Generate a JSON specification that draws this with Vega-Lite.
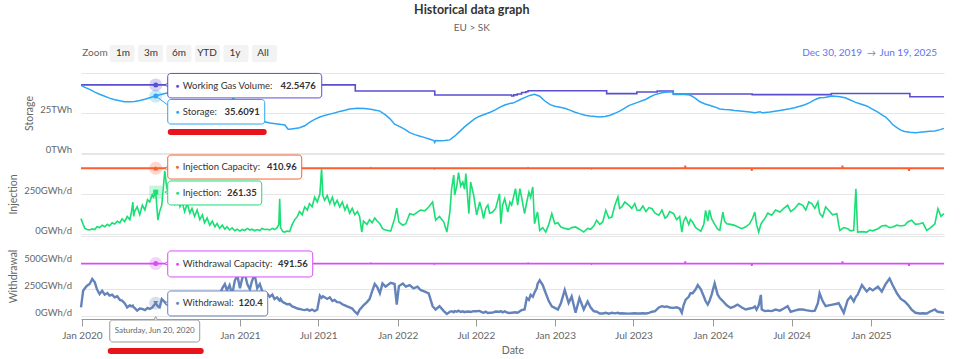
{
"$schema": "https://vega.github.io/schema/vega-lite/v6.json",
"background": "white",
"padding": {"left": 8, "top": 3, "right": 0, "bottom": 0},
"config": {"font": "Lato", "view": {"stroke": null},
  "axis": {"labelColor": "#666666", "titleColor": "#666666", "labelFontSize": 9.5, "titleFontSize": 10.5, "titleFontWeight": "normal", "gridColor": "#e6e6e6", "domain": false, "ticks": false, "tickSize": 0}},
"title": {"text": "Historical data graph", "subtitle": "EU > SK", "fontSize": 12.5, "fontWeight": "bold", "color": "#333333", "subtitleFontSize": 10, "subtitleColor": "#666666", "subtitlePadding": 7, "offset": 12, "anchor": "middle", "dx": -7},
"spacing": 0,
"resolve": {"scale": {"x": "independent", "y": "independent"}, "axis": {"x": "independent", "y": "independent"}},
"datasets": {
"btns": [{"t":"Zoom","r":"r"},{"t":"1m","r":"r"},{"t":"3m","r":"r"},{"t":"6m","r":"r"},{"t":"YTD","r":"r"},{"t":"1y","r":"r"},{"t":"All","r":"r"}],
"wgv": [{"d":"2019-12-30","v":42.5476},{"d":"2021-09-25","v":38.75},{"d":"2022-03-28","v":36.25},{"d":"2022-09-22","v":35.6},{"d":"2022-09-27","v":36.3},{"d":"2022-10-05","v":36.9},{"d":"2022-10-15","v":37.8},{"d":"2022-10-25","v":38.3},{"d":"2022-10-30","v":38.9},{"d":"2023-04-30","v":37.1},{"d":"2023-07-09","v":38.1},{"d":"2023-08-25","v":38.75},{"d":"2023-10-01","v":36.9},{"d":"2024-04-01","v":36.5},{"d":"2024-10-01","v":37.2},{"d":"2025-04-01","v":35.2},{"d":"2025-06-19","v":35.2}],
"sto": [{"d":"2019-12-30","v":42.3},{"d":"2020-01-08","v":41},{"d":"2020-01-19","v":39.8},{"d":"2020-01-31","v":38},{"d":"2020-02-11","v":36.7},{"d":"2020-02-23","v":35.5},{"d":"2020-03-05","v":34.3},{"d":"2020-03-17","v":33.3},{"d":"2020-03-29","v":32.6},{"d":"2020-04-09","v":32.1},{"d":"2020-04-21","v":32},{"d":"2020-05-02","v":32.2},{"d":"2020-05-14","v":32.8},{"d":"2020-05-26","v":33.6},{"d":"2020-06-06","v":34.5},{"d":"2020-06-20","v":35.6091},{"d":"2020-06-29","v":36.4},{"d":"2020-07-22","v":37.8},{"d":"2020-08-15","v":38.9},{"d":"2020-09-07","v":39.6},{"d":"2020-09-30","v":40},{"d":"2020-10-23","v":39.8},{"d":"2020-11-15","v":38.5},{"d":"2020-12-08","v":35.5},{"d":"2021-01-01","v":31.5},{"d":"2021-01-24","v":26.5},{"d":"2021-02-16","v":22},{"d":"2021-02-27","v":19.5},{"d":"2021-03-11","v":18.8},{"d":"2021-04-03","v":18},{"d":"2021-04-15","v":17.5},{"d":"2021-04-22","v":15},{"d":"2021-04-26","v":14.8},{"d":"2021-05-08","v":15.3},{"d":"2021-05-19","v":15.8},{"d":"2021-05-31","v":17},{"d":"2021-06-11","v":19.2},{"d":"2021-06-23","v":21},{"d":"2021-07-05","v":22.5},{"d":"2021-07-16","v":23.5},{"d":"2021-07-28","v":24.3},{"d":"2021-08-08","v":25},{"d":"2021-08-20","v":26},{"d":"2021-09-01","v":26.7},{"d":"2021-09-12","v":27.5},{"d":"2021-09-30","v":28},{"d":"2021-10-17","v":27.8},{"d":"2021-11-03","v":27.2},{"d":"2021-11-21","v":26.2},{"d":"2021-12-03","v":24},{"d":"2021-12-14","v":21.5},{"d":"2021-12-25","v":18},{"d":"2022-01-06","v":16.5},{"d":"2022-01-18","v":14.8},{"d":"2022-01-29","v":12.7},{"d":"2022-02-10","v":11.5},{"d":"2022-02-22","v":10.5},{"d":"2022-03-05","v":9.6},{"d":"2022-03-17","v":8.6},{"d":"2022-03-26","v":7.8},{"d":"2022-03-28","v":6.5},{"d":"2022-03-30","v":7.8},{"d":"2022-04-09","v":7.6},{"d":"2022-04-20","v":7.8},{"d":"2022-05-02","v":8.2},{"d":"2022-05-13","v":10.5},{"d":"2022-05-25","v":13.5},{"d":"2022-06-05","v":16.3},{"d":"2022-06-17","v":19},{"d":"2022-06-29","v":21.5},{"d":"2022-07-10","v":23},{"d":"2022-07-22","v":24.2},{"d":"2022-08-02","v":25.3},{"d":"2022-08-14","v":26.8},{"d":"2022-08-25","v":28.5},{"d":"2022-09-06","v":30},{"d":"2022-09-18","v":31},{"d":"2022-09-25","v":31.2},{"d":"2022-10-01","v":32},{"d":"2022-10-11","v":33.3},{"d":"2022-10-22","v":34.6},{"d":"2022-11-03","v":36},{"d":"2022-11-14","v":36.7},{"d":"2022-11-26","v":35.5},{"d":"2022-12-08","v":32.5},{"d":"2022-12-20","v":30.2},{"d":"2022-12-31","v":29.2},{"d":"2023-01-12","v":28.6},{"d":"2023-01-23","v":28},{"d":"2023-02-04","v":26.8},{"d":"2023-02-16","v":25.5},{"d":"2023-02-26","v":24.6},{"d":"2023-03-11","v":23.6},{"d":"2023-03-22","v":23.1},{"d":"2023-04-03","v":22.8},{"d":"2023-04-14","v":22.5},{"d":"2023-04-26","v":22.8},{"d":"2023-05-08","v":23.6},{"d":"2023-05-19","v":24.8},{"d":"2023-05-30","v":26.2},{"d":"2023-06-11","v":28},{"d":"2023-06-20","v":29.6},{"d":"2023-07-09","v":31.5},{"d":"2023-07-30","v":33.6},{"d":"2023-08-08","v":35},{"d":"2023-08-20","v":36.5},{"d":"2023-08-31","v":37.4},{"d":"2023-09-12","v":38},{"d":"2023-09-23","v":38.1},{"d":"2023-09-30","v":38.2},{"d":"2023-10-02","v":36.6},{"d":"2023-10-16","v":36.7},{"d":"2023-10-28","v":36.6},{"d":"2023-11-09","v":36.2},{"d":"2023-11-20","v":34.5},{"d":"2023-12-02","v":32},{"d":"2023-12-14","v":30.6},{"d":"2023-12-24","v":29.8},{"d":"2024-01-05","v":28.8},{"d":"2024-01-17","v":27.5},{"d":"2024-01-28","v":27.2},{"d":"2024-02-09","v":27},{"d":"2024-02-20","v":26.6},{"d":"2024-03-04","v":26.3},{"d":"2024-03-15","v":26},{"d":"2024-03-26","v":25.6},{"d":"2024-04-07","v":25.2},{"d":"2024-04-19","v":25.8},{"d":"2024-04-25","v":25.1},{"d":"2024-05-12","v":25.6},{"d":"2024-06-04","v":26.6},{"d":"2024-06-27","v":27.6},{"d":"2024-07-08","v":28.3},{"d":"2024-07-20","v":29.2},{"d":"2024-08-01","v":30.2},{"d":"2024-08-13","v":31.6},{"d":"2024-08-24","v":33.3},{"d":"2024-09-04","v":34.5},{"d":"2024-09-16","v":34.7},{"d":"2024-10-04","v":35.6},{"d":"2024-10-21","v":35.2},{"d":"2024-11-02","v":34.5},{"d":"2024-11-13","v":33.3},{"d":"2024-11-25","v":31.8},{"d":"2024-12-06","v":30.8},{"d":"2024-12-22","v":29.4},{"d":"2025-01-02","v":27.7},{"d":"2025-01-17","v":25.5},{"d":"2025-01-28","v":23.5},{"d":"2025-02-04","v":22.5},{"d":"2025-02-13","v":20},{"d":"2025-02-20","v":17.8},{"d":"2025-03-02","v":15.8},{"d":"2025-03-11","v":14.3},{"d":"2025-03-20","v":13.4},{"d":"2025-04-01","v":13},{"d":"2025-04-14","v":12.7},{"d":"2025-04-24","v":12.9},{"d":"2025-05-06","v":13.3},{"d":"2025-05-17","v":13.6},{"d":"2025-05-29","v":13.8},{"d":"2025-06-10","v":14.6},{"d":"2025-06-19","v":15.4}],
"icap": [{"d":"2019-12-30","v":410.96},{"d":"2021-10-30","v":410.96},{"d":"2021-10-31","v":414},{"d":"2021-11-01","v":410.96},{"d":"2022-03-26","v":410.96},{"d":"2022-03-27","v":408},{"d":"2022-03-28","v":410.96},{"d":"2022-10-29","v":410.96},{"d":"2022-10-30","v":414},{"d":"2022-10-31","v":410.96},{"d":"2023-03-25","v":410.96},{"d":"2023-03-26","v":408},{"d":"2023-03-27","v":410.96},{"d":"2023-10-28","v":410.96},{"d":"2023-10-29","v":428},{"d":"2023-10-30","v":410.96},{"d":"2024-03-30","v":410.96},{"d":"2024-03-31","v":394},{"d":"2024-04-01","v":410.96},{"d":"2024-10-26","v":410.96},{"d":"2024-10-27","v":428},{"d":"2024-10-28","v":410.96},{"d":"2025-03-29","v":410.96},{"d":"2025-03-30","v":394},{"d":"2025-03-31","v":410.96},{"d":"2025-06-19","v":410.96}],
"wcap": [{"d":"2019-12-30","v":491.56},{"d":"2021-10-30","v":491.56},{"d":"2021-10-31","v":495},{"d":"2021-11-01","v":491.56},{"d":"2022-03-26","v":491.56},{"d":"2022-03-27","v":488},{"d":"2022-03-28","v":491.56},{"d":"2022-10-29","v":491.56},{"d":"2022-10-30","v":495},{"d":"2022-10-31","v":491.56},{"d":"2023-03-25","v":491.56},{"d":"2023-03-26","v":488},{"d":"2023-03-27","v":491.56},{"d":"2023-10-28","v":491.56},{"d":"2023-10-29","v":512},{"d":"2023-10-30","v":491.56},{"d":"2024-03-30","v":491.56},{"d":"2024-03-31","v":471},{"d":"2024-04-01","v":491.56},{"d":"2024-10-26","v":491.56},{"d":"2024-10-27","v":512},{"d":"2024-10-28","v":491.56},{"d":"2025-03-29","v":491.56},{"d":"2025-03-30","v":471},{"d":"2025-03-31","v":491.56},{"d":"2025-06-19","v":491.56}],
"flow": [
{"d":"2019-12-30","i":96,"w":81},{"d":"2020-01-04","i":60,"w":237},{"d":"2020-01-08","i":35,"w":260},{"d":"2020-01-13","i":28,"w":284},{"d":"2020-01-19","i":25,"w":300},{"d":"2020-01-25","i":32,"w":347},{"d":"2020-01-31","i":28,"w":316},{"d":"2020-02-05","i":45,"w":250},{"d":"2020-02-11","i":40,"w":206},{"d":"2020-02-17","i":55,"w":237},{"d":"2020-02-23","i":45,"w":200},{"d":"2020-02-29","i":60,"w":215},{"d":"2020-03-05","i":50,"w":191},{"d":"2020-03-11","i":70,"w":200},{"d":"2020-03-17","i":62,"w":175},{"d":"2020-03-23","i":80,"w":185},{"d":"2020-03-29","i":70,"w":150},{"d":"2020-04-03","i":95,"w":144},{"d":"2020-04-09","i":78,"w":120},{"d":"2020-04-15","i":110,"w":81},{"d":"2020-04-21","i":90,"w":100},{"d":"2020-04-24","i":125,"w":90},{"d":"2020-04-28","i":200,"w":97},{"d":"2020-04-30","i":110,"w":80},{"d":"2020-05-02","i":140,"w":75},{"d":"2020-05-08","i":170,"w":50},{"d":"2020-05-14","i":120,"w":70},{"d":"2020-05-20","i":180,"w":66},{"d":"2020-05-26","i":150,"w":55},{"d":"2020-06-01","i":215,"w":75},{"d":"2020-06-06","i":200,"w":66},{"d":"2020-06-12","i":245,"w":80},{"d":"2020-06-15","i":230,"w":95},{"d":"2020-06-20","i":261.35,"w":120.4},{"d":"2020-06-25","i":87,"w":90},{"d":"2020-06-29","i":140,"w":81},{"d":"2020-07-04","i":180,"w":159},{"d":"2020-07-11","i":395,"w":130},{"d":"2020-07-15","i":300,"w":110},{"d":"2020-07-22","i":220,"w":100},{"d":"2020-07-28","i":260,"w":120},{"d":"2020-08-03","i":190,"w":90},{"d":"2020-08-09","i":240,"w":110},{"d":"2020-08-15","i":170,"w":80},{"d":"2020-08-20","i":200,"w":100},{"d":"2020-08-26","i":140,"w":90},{"d":"2020-09-01","i":190,"w":120},{"d":"2020-09-07","i":130,"w":95},{"d":"2020-09-12","i":160,"w":130},{"d":"2020-09-18","i":110,"w":100},{"d":"2020-09-24","i":150,"w":120},{"d":"2020-09-30","i":90,"w":150},{"d":"2020-10-06","i":120,"w":130},{"d":"2020-10-11","i":70,"w":160},{"d":"2020-10-17","i":100,"w":140},{"d":"2020-10-23","i":55,"w":170},{"d":"2020-10-29","i":80,"w":150},{"d":"2020-11-04","i":45,"w":180},{"d":"2020-11-09","i":65,"w":160},{"d":"2020-11-15","i":35,"w":200},{"d":"2020-11-21","i":55,"w":260},{"d":"2020-11-27","i":30,"w":300},{"d":"2020-12-02","i":45,"w":240},{"d":"2020-12-08","i":25,"w":290},{"d":"2020-12-14","i":38,"w":200},{"d":"2020-12-20","i":20,"w":330},{"d":"2020-12-26","i":30,"w":380},{"d":"2021-01-01","i":18,"w":260},{"d":"2021-01-06","i":28,"w":350},{"d":"2021-01-12","i":22,"w":400},{"d":"2021-01-18","i":35,"w":300},{"d":"2021-01-24","i":25,"w":250},{"d":"2021-01-29","i":30,"w":330},{"d":"2021-02-04","i":20,"w":390},{"d":"2021-02-10","i":28,"w":260},{"d":"2021-02-16","i":22,"w":300},{"d":"2021-02-21","i":35,"w":240},{"d":"2021-02-27","i":28,"w":190},{"d":"2021-03-05","i":30,"w":210},{"d":"2021-03-11","i":25,"w":180},{"d":"2021-03-17","i":35,"w":200},{"d":"2021-03-22","i":28,"w":160},{"d":"2021-03-28","i":40,"w":175},{"d":"2021-04-01","i":60,"w":150},{"d":"2021-04-03","i":220,"w":144},{"d":"2021-04-05","i":40,"w":160},{"d":"2021-04-10","i":15,"w":130},{"d":"2021-04-15","i":12,"w":120},{"d":"2021-04-20","i":18,"w":110},{"d":"2021-04-26","i":15,"w":112},{"d":"2021-05-02","i":60,"w":90},{"d":"2021-05-08","i":90,"w":80},{"d":"2021-05-14","i":110,"w":70},{"d":"2021-05-19","i":140,"w":66},{"d":"2021-05-25","i":120,"w":60},{"d":"2021-05-31","i":170,"w":55},{"d":"2021-06-06","i":150,"w":62},{"d":"2021-06-11","i":190,"w":50},{"d":"2021-06-17","i":170,"w":60},{"d":"2021-06-23","i":230,"w":45},{"d":"2021-06-29","i":200,"w":60},{"d":"2021-07-05","i":250,"w":191},{"d":"2021-07-09","i":408,"w":170},{"d":"2021-07-12","i":240,"w":185},{"d":"2021-07-16","i":210,"w":175},{"d":"2021-07-22","i":240,"w":160},{"d":"2021-07-28","i":190,"w":175},{"d":"2021-08-03","i":230,"w":140},{"d":"2021-08-08","i":180,"w":150},{"d":"2021-08-14","i":210,"w":130},{"d":"2021-08-20","i":170,"w":128},{"d":"2021-08-26","i":200,"w":110},{"d":"2021-09-01","i":150,"w":100},{"d":"2021-09-06","i":180,"w":90},{"d":"2021-09-12","i":130,"w":81},{"d":"2021-09-18","i":160,"w":70},{"d":"2021-09-24","i":120,"w":40},{"d":"2021-09-30","i":140,"w":19},{"d":"2021-10-05","i":110,"w":60},{"d":"2021-10-10","i":12,"w":81},{"d":"2021-10-14","i":80,"w":100},{"d":"2021-10-22","i":60,"w":130},{"d":"2021-10-28","i":90,"w":159},{"d":"2021-11-03","i":70,"w":230},{"d":"2021-11-09","i":100,"w":300},{"d":"2021-11-15","i":80,"w":270},{"d":"2021-11-21","i":64,"w":213},{"d":"2021-11-27","i":33,"w":305},{"d":"2021-12-04","i":25,"w":275},{"d":"2021-12-16","i":18,"w":311},{"d":"2021-12-25","i":96,"w":300},{"d":"2021-12-30","i":162,"w":107},{"d":"2022-01-04","i":75,"w":280},{"d":"2022-01-13","i":55,"w":305},{"d":"2022-01-20","i":64,"w":275},{"d":"2022-01-29","i":127,"w":290},{"d":"2022-02-07","i":120,"w":259},{"d":"2022-02-16","i":137,"w":275},{"d":"2022-02-23","i":150,"w":244},{"d":"2022-03-05","i":145,"w":229},{"d":"2022-03-14","i":169,"w":213},{"d":"2022-03-23","i":200,"w":92},{"d":"2022-03-30","i":87,"w":61},{"d":"2022-04-08","i":110,"w":92},{"d":"2022-04-18","i":75,"w":46},{"d":"2022-04-25","i":12,"w":20},{"d":"2022-05-02","i":137,"w":40},{"d":"2022-05-06","i":283,"w":45},{"d":"2022-05-11","i":368,"w":35},{"d":"2022-05-13","i":244,"w":46},{"d":"2022-05-18","i":300,"w":40},{"d":"2022-05-22","i":383,"w":50},{"d":"2022-05-27","i":300,"w":38},{"d":"2022-06-01","i":325,"w":44},{"d":"2022-06-05","i":280,"w":36},{"d":"2022-06-08","i":377,"w":40},{"d":"2022-06-15","i":127,"w":42},{"d":"2022-06-19","i":325,"w":38},{"d":"2022-06-26","i":244,"w":46},{"d":"2022-07-03","i":119,"w":44},{"d":"2022-07-10","i":200,"w":48},{"d":"2022-07-15","i":150,"w":35},{"d":"2022-07-19","i":96,"w":30},{"d":"2022-07-24","i":160,"w":40},{"d":"2022-07-29","i":181,"w":28},{"d":"2022-08-02","i":130,"w":30},{"d":"2022-08-09","i":137,"w":32},{"d":"2022-08-16","i":160,"w":42},{"d":"2022-08-25","i":252,"w":40},{"d":"2022-08-28","i":64,"w":46},{"d":"2022-09-01","i":180,"w":35},{"d":"2022-09-06","i":221,"w":44},{"d":"2022-09-13","i":137,"w":30},{"d":"2022-09-18","i":200,"w":28},{"d":"2022-09-22","i":181,"w":30},{"d":"2022-10-01","i":283,"w":35},{"d":"2022-10-06","i":181,"w":30},{"d":"2022-10-11","i":283,"w":45},{"d":"2022-10-15","i":230,"w":55},{"d":"2022-10-22","i":127,"w":61},{"d":"2022-10-27","i":200,"w":168},{"d":"2022-11-01","i":262,"w":150},{"d":"2022-11-05","i":230,"w":198},{"d":"2022-11-10","i":294,"w":180},{"d":"2022-11-14","i":64,"w":220},{"d":"2022-11-19","i":120,"w":260},{"d":"2022-11-21","i":137,"w":300},{"d":"2022-11-26","i":23,"w":335},{"d":"2022-12-03","i":40,"w":290},{"d":"2022-12-10","i":12,"w":213},{"d":"2022-12-17","i":60,"w":140},{"d":"2022-12-24","i":127,"w":90},{"d":"2022-12-31","i":64,"w":76},{"d":"2023-01-07","i":70,"w":61},{"d":"2023-01-14","i":44,"w":120},{"d":"2023-01-23","i":35,"w":244},{"d":"2023-02-01","i":29,"w":122},{"d":"2023-02-08","i":40,"w":183},{"d":"2023-02-17","i":44,"w":30},{"d":"2023-02-26","i":30,"w":168},{"d":"2023-03-08","i":12,"w":61},{"d":"2023-03-17","i":35,"w":137},{"d":"2023-03-24","i":29,"w":80},{"d":"2023-03-31","i":50,"w":46},{"d":"2023-04-07","i":86,"w":40},{"d":"2023-04-14","i":60,"w":24},{"d":"2023-04-21","i":75,"w":24},{"d":"2023-04-28","i":148,"w":30},{"d":"2023-05-05","i":100,"w":22},{"d":"2023-05-12","i":106,"w":30},{"d":"2023-05-19","i":180,"w":25},{"d":"2023-05-26","i":231,"w":30},{"d":"2023-05-30","i":160,"w":24},{"d":"2023-06-04","i":169,"w":26},{"d":"2023-06-11","i":200,"w":24},{"d":"2023-06-20","i":181,"w":22},{"d":"2023-06-27","i":160,"w":24},{"d":"2023-07-04","i":190,"w":26},{"d":"2023-07-09","i":150,"w":24},{"d":"2023-07-16","i":148,"w":24},{"d":"2023-07-23","i":175,"w":26},{"d":"2023-07-30","i":140,"w":24},{"d":"2023-08-06","i":165,"w":30},{"d":"2023-08-13","i":158,"w":40},{"d":"2023-08-20","i":130,"w":46},{"d":"2023-08-29","i":117,"w":80},{"d":"2023-09-05","i":150,"w":92},{"d":"2023-09-12","i":100,"w":85},{"d":"2023-09-16","i":106,"w":90},{"d":"2023-09-23","i":140,"w":80},{"d":"2023-10-02","i":127,"w":76},{"d":"2023-10-09","i":90,"w":82},{"d":"2023-10-16","i":110,"w":70},{"d":"2023-10-21","i":12,"w":30},{"d":"2023-10-25","i":80,"w":100},{"d":"2023-10-30","i":106,"w":153},{"d":"2023-11-06","i":60,"w":180},{"d":"2023-11-10","i":90,"w":213},{"d":"2023-11-15","i":75,"w":213},{"d":"2023-11-22","i":40,"w":250},{"d":"2023-11-27","i":30,"w":290},{"d":"2023-12-04","i":17,"w":250},{"d":"2023-12-11","i":60,"w":183},{"d":"2023-12-15","i":148,"w":140},{"d":"2023-12-20","i":80,"w":107},{"d":"2023-12-24","i":150,"w":140},{"d":"2023-12-29","i":96,"w":200},{"d":"2024-01-05","i":60,"w":305},{"d":"2024-01-12","i":30,"w":200},{"d":"2024-01-17","i":23,"w":168},{"d":"2024-01-24","i":137,"w":140},{"d":"2024-01-28","i":80,"w":122},{"d":"2024-02-02","i":64,"w":100},{"d":"2024-02-11","i":60,"w":76},{"d":"2024-02-20","i":54,"w":90},{"d":"2024-02-27","i":45,"w":107},{"d":"2024-03-08","i":33,"w":80},{"d":"2024-03-17","i":45,"w":61},{"d":"2024-03-26","i":64,"w":70},{"d":"2024-04-02","i":100,"w":76},{"d":"2024-04-07","i":137,"w":90},{"d":"2024-04-11","i":60,"w":60},{"d":"2024-04-16","i":12,"w":100},{"d":"2024-04-21","i":60,"w":198},{"d":"2024-04-23","i":70,"w":60},{"d":"2024-04-30","i":96,"w":46},{"d":"2024-05-07","i":130,"w":50},{"d":"2024-05-16","i":117,"w":46},{"d":"2024-05-25","i":150,"w":60},{"d":"2024-06-04","i":137,"w":50},{"d":"2024-06-13","i":160,"w":70},{"d":"2024-06-22","i":179,"w":92},{"d":"2024-06-29","i":140,"w":40},{"d":"2024-07-08","i":158,"w":50},{"d":"2024-07-18","i":190,"w":61},{"d":"2024-07-27","i":179,"w":61},{"d":"2024-08-03","i":150,"w":55},{"d":"2024-08-10","i":200,"w":50},{"d":"2024-08-17","i":190,"w":46},{"d":"2024-08-24","i":160,"w":50},{"d":"2024-08-31","i":200,"w":120},{"d":"2024-09-04","i":130,"w":213},{"d":"2024-09-11","i":106,"w":140},{"d":"2024-09-18","i":170,"w":92},{"d":"2024-09-25","i":148,"w":100},{"d":"2024-10-04","i":120,"w":107},{"d":"2024-10-14","i":127,"w":115},{"d":"2024-10-18","i":60,"w":122},{"d":"2024-10-21","i":23,"w":100},{"d":"2024-10-30","i":40,"w":30},{"d":"2024-11-08","i":33,"w":150},{"d":"2024-11-15","i":20,"w":183},{"d":"2024-11-22","i":23,"w":137},{"d":"2024-11-27","i":283,"w":180},{"d":"2024-12-01","i":12,"w":200},{"d":"2024-12-11","i":15,"w":290},{"d":"2024-12-22","i":12,"w":230},{"d":"2024-12-29","i":25,"w":259},{"d":"2025-01-05","i":20,"w":240},{"d":"2025-01-17","i":33,"w":275},{"d":"2025-01-26","i":50,"w":229},{"d":"2025-02-04","i":54,"w":300},{"d":"2025-02-13","i":40,"w":351},{"d":"2025-02-20","i":44,"w":290},{"d":"2025-03-02","i":55,"w":213},{"d":"2025-03-11","i":50,"w":160},{"d":"2025-03-20","i":54,"w":137},{"d":"2025-03-27","i":75,"w":107},{"d":"2025-04-05","i":86,"w":60},{"d":"2025-04-14","i":60,"w":30},{"d":"2025-04-24","i":64,"w":24},{"d":"2025-05-01","i":70,"w":26},{"d":"2025-05-10","i":23,"w":24},{"d":"2025-05-17","i":35,"w":40},{"d":"2025-05-29","i":64,"w":61},{"d":"2025-06-02","i":120,"w":45},{"d":"2025-06-05","i":158,"w":40},{"d":"2025-06-12","i":110,"w":35},{"d":"2025-06-19","i":127,"w":30}]
},
"vconcat": [
{
 "width": 863, "height": 27,
 "resolve": {"scale": {"x": "independent"}},
 "layer": [
  {"data": {"name": "btns"}, "transform": [{"filter": "datum.t !== 'Zoom'"}],
   "mark": {"type": "rect", "fill": "#f3f3f3", "cornerRadius": 2},
   "encoding": {
     "x": {"field": "t", "type": "nominal", "scale": {"domain": ["Zoom","1m","3m","6m","YTD","1y","All"], "range": [0, 196], "paddingInner": 0.12, "paddingOuter": 0}, "axis": null},
     "y": {"field": "r", "type": "nominal", "scale": {"domain": ["r"], "paddingInner": 0, "paddingOuter": 0.3, "align": 0}, "axis": null}}},
  {"data": {"name": "btns"},
   "mark": {"type": "text", "fontSize": 10},
   "encoding": {
     "x": {"field": "t", "type": "nominal", "scale": {"domain": ["Zoom","1m","3m","6m","YTD","1y","All"], "range": [0, 196], "paddingInner": 0.12, "paddingOuter": 0}, "axis": null},
     "y": {"field": "r", "type": "nominal", "scale": {"domain": ["r"], "paddingInner": 0, "paddingOuter": 0.3, "align": 0}, "axis": null},
     "text": {"field": "t"},
     "color": {"condition": {"test": "datum.t === 'Zoom'", "value": "#666666"}, "value": "#333333"}}},
  {"data": {"values": [{"d": "2025-06-19", "r": "r", "label": "Jun 19, 2025"}]},
   "mark": {"type": "text", "align": "right", "dx": -7, "fontSize": 10, "color": "#5f73f0"},
   "encoding": {
     "x": {"field": "d", "type": "temporal", "scale": {"type": "utc", "domain": [{"year": 2019, "month": 12, "date": 30, "utc": true}, {"year": 2025, "month": 6, "date": 19, "utc": true}]}, "axis": null},
     "y": {"field": "r", "type": "nominal", "scale": {"domain": ["r"], "paddingInner": 0, "paddingOuter": 0.3, "align": 0}, "axis": null},
     "text": {"field": "label"}}},
  {"data": {"values": [{"d": "2025-06-19", "r": "r", "label": "→"}]},
   "mark": {"type": "text", "align": "right", "dx": -68, "fontSize": 9, "color": "#888888"},
   "encoding": {
     "x": {"field": "d", "type": "temporal", "scale": {"type": "utc", "domain": [{"year": 2019, "month": 12, "date": 30, "utc": true}, {"year": 2025, "month": 6, "date": 19, "utc": true}]}, "axis": null},
     "y": {"field": "r", "type": "nominal", "scale": {"domain": ["r"], "paddingInner": 0, "paddingOuter": 0.3, "align": 0}, "axis": null},
     "text": {"field": "label"}}},
  {"data": {"values": [{"d": "2025-06-19", "r": "r", "label": "Dec 30, 2019"}]},
   "mark": {"type": "text", "align": "right", "dx": -82, "fontSize": 10, "color": "#5f73f0"},
   "encoding": {
     "x": {"field": "d", "type": "temporal", "scale": {"type": "utc", "domain": [{"year": 2019, "month": 12, "date": 30, "utc": true}, {"year": 2025, "month": 6, "date": 19, "utc": true}]}, "axis": null},
     "y": {"field": "r", "type": "nominal", "scale": {"domain": ["r"], "paddingInner": 0, "paddingOuter": 0.3, "align": 0}, "axis": null},
     "text": {"field": "label"}}}
 ]
},
{
 "width": 863, "height": 80,
 "encoding": {
   "x": {"field": "d", "type": "temporal", "scale": {"type": "utc", "domain": [{"year": 2019, "month": 12, "date": 30, "utc": true}, {"year": 2025, "month": 6, "date": 19, "utc": true}]}, "axis": null},
   "y": {"field": "v", "type": "quantitative", "scale": {"domain": [0, 50], "nice": false}, "axis": {"values": [0, 25, 50], "labelExpr": "datum.value == 50 ? '' : datum.value + 'TWh'", "title": "Storage", "grid": true, "labelPadding": 9.5, "labelOffset": -4, "titlePadding": 5}}},
 "layer": [
  {"data": {"name": "wgv"}, "mark": {"type": "line", "interpolate": "step-after", "color": "#5a4fd0", "strokeWidth": 1.6}},
  {"data": {"name": "sto"}, "mark": {"type": "line", "color": "#2ba6f5", "strokeWidth": 1.5}},
  {"data": {"values": [{"d": "2020-06-20"}]}, "mark": {"type": "rule", "color": "#cccccc", "strokeWidth": 1}, "encoding": {"y": {"datum": 0}, "y2": {"datum": 50}}},
  {"data": {"values": [{"d": "2020-06-20", "v": 35.6091, "s": "Storage:"}]},
   "layer": [
    {"mark": {"type": "rule", "color": "#2ba6f5", "strokeWidth": 1, "x2Offset": 12, "y2Offset": 9}, "encoding": {"x2": {"field": "d"}, "y2": {"field": "v"}}},
    {"mark": {"type": "point", "filled": true, "size": 170, "opacity": 0.25, "color": "#2ba6f5", "shape": "circle"}},
    {"mark": {"type": "point", "filled": true, "size": 25, "opacity": 1, "color": "#2ba6f5", "shape": "circle"}},
    {"mark": {"type": "rect", "fill": "white", "stroke": "#2ba6f5", "strokeWidth": 1, "cornerRadius": 3, "xOffset": 12, "x2Offset": 109, "yOffset": 3.5, "y2Offset": 28}, "encoding": {"x2": {"field": "d"}, "y2": {"field": "v"}}},
    {"mark": {"type": "text", "text": "●", "color": "#2ba6f5", "align": "left", "dx": 20, "dy": 16, "fontSize": 6}},
    {"mark": {"type": "text", "align": "left", "dx": 27, "dy": 16, "fontSize": 9.5, "color": "#333333"}, "encoding": {"text": {"field": "s"}}},
    {"mark": {"type": "text", "align": "right", "dx": 104, "dy": 16, "fontSize": 9.5, "fontWeight": "bold", "color": "#333333"}, "encoding": {"text": {"field": "v", "type": "nominal"}}},
    {"mark": {"type": "rule", "color": "#e8141c", "strokeWidth": 6, "strokeCap": "round", "xOffset": 15, "x2Offset": 108, "yOffset": 36}, "encoding": {"x2": {"field": "d"}}}
   ]},
  {"data": {"values": [{"d": "2020-06-20", "v": 42.5476, "s": "Working Gas Volume:"}]},
   "layer": [
    {"mark": {"type": "point", "filled": true, "size": 170, "opacity": 0.25, "color": "#5a4fd0", "shape": "circle"}},
    {"mark": {"type": "point", "filled": true, "size": 25, "opacity": 1, "color": "#5a4fd0", "shape": "circle"}},
    {"mark": {"type": "point", "filled": true, "fill": "white", "stroke": "#5a4fd0", "strokeWidth": 1, "size": 45, "opacity": 1, "shape": "triangle-left", "xOffset": 12}},
    {"mark": {"type": "rect", "fill": "white", "stroke": "#5a4fd0", "strokeWidth": 1, "cornerRadius": 3, "xOffset": 12, "x2Offset": 166, "yOffset": -11.5, "y2Offset": 13}, "encoding": {"x2": {"field": "d"}, "y2": {"field": "v"}}},
    {"mark": {"type": "text", "text": "●", "color": "#5a4fd0", "align": "left", "dx": 20, "dy": 1, "fontSize": 6}},
    {"mark": {"type": "text", "align": "left", "dx": 27, "dy": 1, "fontSize": 9.5, "color": "#333333"}, "encoding": {"text": {"field": "s"}}},
    {"mark": {"type": "text", "align": "right", "dx": 160, "dy": 1, "fontSize": 9.5, "fontWeight": "bold", "color": "#333333"}, "encoding": {"text": {"field": "v", "type": "nominal"}}}
   ]}
 ]
},
{
 "width": 863, "height": 80,
 "encoding": {
   "x": {"field": "d", "type": "temporal", "scale": {"type": "utc", "domain": [{"year": 2019, "month": 12, "date": 30, "utc": true}, {"year": 2025, "month": 6, "date": 19, "utc": true}]}, "axis": null},
   "y": {"field": "v", "type": "quantitative", "scale": {"domain": [0, 500], "nice": false}, "axis": {"values": [0, 250, 500], "labelExpr": "datum.value == 500 ? '' : datum.value + 'GWh/d'", "title": "Injection", "grid": true, "labelPadding": 9.5, "labelOffset": -4, "titlePadding": 5}}},
 "layer": [
  {"data": {"name": "icap"}, "mark": {"type": "line", "color": "#fd5e2f", "strokeWidth": 1.8}},
  {"data": {"name": "flow"}, "transform": [{"fold": ["i"], "as": ["k", "v"]}], "mark": {"type": "line", "color": "#19df74", "strokeWidth": 1.6}},
  {"data": {"values": [{"d": "2020-06-20"}]}, "mark": {"type": "rule", "color": "#cccccc", "strokeWidth": 1}, "encoding": {"y": {"datum": 0}, "y2": {"datum": 500}}},
  {"data": {"values": [{"d": "2020-06-20", "v": 261.35, "s": "Injection:"}]},
   "layer": [
    {"mark": {"type": "point", "filled": true, "size": 170, "opacity": 0.25, "color": "#19df74", "shape": "square"}},
    {"mark": {"type": "point", "filled": true, "size": 25, "opacity": 1, "color": "#19df74", "shape": "square"}},
    {"mark": {"type": "point", "filled": true, "fill": "white", "stroke": "#19df74", "strokeWidth": 1, "size": 45, "opacity": 1, "shape": "triangle-left", "xOffset": 12}},
    {"mark": {"type": "rect", "fill": "white", "stroke": "#19df74", "strokeWidth": 1, "cornerRadius": 3, "xOffset": 12, "x2Offset": 106, "yOffset": -11.2, "y2Offset": 12.8}, "encoding": {"x2": {"field": "d"}, "y2": {"field": "v"}}},
    {"mark": {"type": "text", "text": "●", "color": "#19df74", "align": "left", "dx": 20, "dy": 1, "fontSize": 6}},
    {"mark": {"type": "text", "align": "left", "dx": 27, "dy": 1, "fontSize": 9.5, "color": "#333333"}, "encoding": {"text": {"field": "s"}}},
    {"mark": {"type": "text", "align": "right", "dx": 101, "dy": 1, "fontSize": 9.5, "fontWeight": "bold", "color": "#333333"}, "encoding": {"text": {"field": "v", "type": "nominal"}}}
   ]},
  {"data": {"values": [{"d": "2020-06-20", "v": 410.96, "s": "Injection Capacity:"}]},
   "layer": [
    {"mark": {"type": "point", "filled": true, "size": 170, "opacity": 0.25, "color": "#fd5e2f", "shape": "circle"}},
    {"mark": {"type": "point", "filled": true, "size": 25, "opacity": 1, "color": "#fd5e2f", "shape": "triangle-up"}},
    {"mark": {"type": "point", "filled": true, "fill": "white", "stroke": "#fd5e2f", "strokeWidth": 1, "size": 45, "opacity": 1, "shape": "triangle-left", "xOffset": 12}},
    {"mark": {"type": "rect", "fill": "white", "stroke": "#fd5e2f", "strokeWidth": 1, "cornerRadius": 3, "xOffset": 12, "x2Offset": 146, "yOffset": -13.2, "y2Offset": 10.8}, "encoding": {"x2": {"field": "d"}, "y2": {"field": "v"}}},
    {"mark": {"type": "text", "text": "●", "color": "#fd5e2f", "align": "left", "dx": 20, "dy": -1, "fontSize": 6}},
    {"mark": {"type": "text", "align": "left", "dx": 27, "dy": -1, "fontSize": 9.5, "color": "#333333"}, "encoding": {"text": {"field": "s"}}},
    {"mark": {"type": "text", "align": "right", "dx": 141, "dy": -1, "fontSize": 9.5, "fontWeight": "bold", "color": "#333333"}, "encoding": {"text": {"field": "v", "type": "nominal"}}}
   ]}
 ]
},
{
 "width": 863, "height": 80,
 "encoding": {
   "x": {"field": "d", "type": "temporal", "scale": {"type": "utc", "domain": [{"year": 2019, "month": 12, "date": 30, "utc": true}, {"year": 2025, "month": 6, "date": 19, "utc": true}]},
     "axis": {"values": [{"year": 2020, "month": 1, "date": 1, "utc": true}, {"year": 2021, "month": 1, "date": 1, "utc": true}, {"year": 2021, "month": 7, "date": 1, "utc": true}, {"year": 2022, "month": 1, "date": 1, "utc": true}, {"year": 2022, "month": 7, "date": 1, "utc": true}, {"year": 2023, "month": 1, "date": 1, "utc": true}, {"year": 2023, "month": 7, "date": 1, "utc": true}, {"year": 2024, "month": 1, "date": 1, "utc": true}, {"year": 2024, "month": 7, "date": 1, "utc": true}, {"year": 2025, "month": 1, "date": 1, "utc": true}],
       "format": "%b %Y", "title": "Date", "grid": false, "domain": true, "domainColor": "#999999", "ticks": true, "tickColor": "#999999", "tickSize": 7, "offset": 3, "labelPadding": 4, "titlePadding": 5, "labelFlush": false, "labelFontSize": 10}},
   "y": {"field": "v", "type": "quantitative", "scale": {"domain": [0, 750], "nice": false}, "axis": {"values": [0, 250, 500, 750], "labelExpr": "datum.value == 750 ? '' : datum.value + 'GWh/d'", "title": "Withdrawal", "grid": true, "labelPadding": 9.5, "labelOffset": -4, "titlePadding": 5}}},
 "layer": [
  {"data": {"name": "wcap"}, "mark": {"type": "line", "color": "#d64ff5", "strokeWidth": 1.8}},
  {"data": {"name": "flow"}, "transform": [{"fold": ["w"], "as": ["k", "v"]}], "mark": {"type": "line", "color": "#6483ba", "strokeWidth": 2.4}},
  {"data": {"values": [{"d": "2020-06-20"}]}, "mark": {"type": "rule", "color": "#cccccc", "strokeWidth": 1}, "encoding": {"y": {"datum": 0}, "y2": {"datum": 750}}},
  {"data": {"values": [{"d": "2020-06-20", "v": 120.4, "s": "Withdrawal:"}]},
   "layer": [
    {"mark": {"type": "point", "filled": true, "size": 170, "opacity": 0.25, "color": "#6483ba", "shape": "circle"}},
    {"mark": {"type": "point", "filled": true, "size": 25, "opacity": 1, "color": "#6483ba", "shape": "triangle-down"}},
    {"mark": {"type": "point", "filled": true, "fill": "white", "stroke": "#6483ba", "strokeWidth": 1, "size": 45, "opacity": 1, "shape": "triangle-left", "xOffset": 12}},
    {"mark": {"type": "rect", "fill": "white", "stroke": "#6483ba", "strokeWidth": 1, "cornerRadius": 3, "xOffset": 12, "x2Offset": 112, "yOffset": -12.2, "y2Offset": 12.8}, "encoding": {"x2": {"field": "d"}, "y2": {"field": "v"}}},
    {"mark": {"type": "text", "text": "●", "color": "#6483ba", "align": "left", "dx": 20, "dy": 0, "fontSize": 6}},
    {"mark": {"type": "text", "align": "left", "dx": 27, "dy": 0, "fontSize": 9.5, "color": "#333333"}, "encoding": {"text": {"field": "s"}}},
    {"mark": {"type": "text", "align": "right", "dx": 107, "dy": 0, "fontSize": 9.5, "fontWeight": "bold", "color": "#333333"}, "encoding": {"text": {"field": "v", "type": "nominal"}}}
   ]},
  {"data": {"values": [{"d": "2020-06-20", "v": 491.56, "s": "Withdrawal Capacity:"}]},
   "layer": [
    {"mark": {"type": "point", "filled": true, "size": 170, "opacity": 0.25, "color": "#d64ff5", "shape": "circle"}},
    {"mark": {"type": "point", "filled": true, "size": 25, "opacity": 1, "color": "#d64ff5", "shape": "circle"}},
    {"mark": {"type": "point", "filled": true, "fill": "white", "stroke": "#d64ff5", "strokeWidth": 1, "size": 45, "opacity": 1, "shape": "triangle-left", "xOffset": 12}},
    {"mark": {"type": "rect", "fill": "white", "stroke": "#d64ff5", "strokeWidth": 1, "cornerRadius": 3, "xOffset": 12, "x2Offset": 157, "yOffset": -12.6, "y2Offset": 13.4}, "encoding": {"x2": {"field": "d"}, "y2": {"field": "v"}}},
    {"mark": {"type": "text", "text": "●", "color": "#d64ff5", "align": "left", "dx": 20, "dy": 0.5, "fontSize": 6}},
    {"mark": {"type": "text", "align": "left", "dx": 27, "dy": 0.5, "fontSize": 9.5, "color": "#333333"}, "encoding": {"text": {"field": "s"}}},
    {"mark": {"type": "text", "align": "right", "dx": 152, "dy": 0.5, "fontSize": 9.5, "fontWeight": "bold", "color": "#333333"}, "encoding": {"text": {"field": "v", "type": "nominal"}}}
   ]},
  {"data": {"values": [{"d": "2020-06-20", "v": 0, "s": "Saturday, Jun 20, 2020"}]},
   "layer": [
    {"mark": {"type": "point", "filled": true, "fill": "white", "stroke": "#999999", "strokeWidth": 1, "size": 30, "opacity": 1, "shape": "triangle-up", "yOffset": 3}},
    {"mark": {"type": "rect", "fill": "white", "stroke": "#999999", "strokeWidth": 1, "cornerRadius": 3, "xOffset": -46, "x2Offset": 44, "yOffset": 4, "y2Offset": 26}, "encoding": {"x2": {"field": "d"}, "y2": {"field": "v"}}},
    {"mark": {"type": "text", "align": "center", "dx": -1, "dy": 15, "fontSize": 8, "color": "#666666"}, "encoding": {"text": {"field": "s"}}},
    {"mark": {"type": "rule", "color": "#e8141c", "strokeWidth": 6, "strokeCap": "round", "xOffset": -45, "x2Offset": 45, "yOffset": 35}, "encoding": {"x2": {"field": "d"}}}
   ]}
 ]
}
]
}
